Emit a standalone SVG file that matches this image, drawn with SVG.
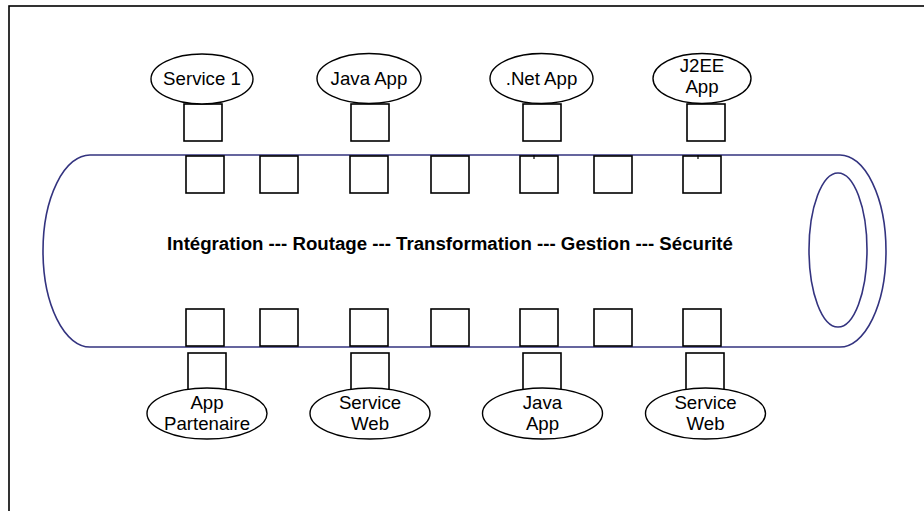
<svg xmlns="http://www.w3.org/2000/svg" width="924" height="511" viewBox="0 0 924 511">
  <style>
    .frame { fill: none; stroke: #000; stroke-width: 1.6; }
    .bus { fill: none; stroke: #33337f; stroke-width: 1.6; }
    .port { fill: #fff; stroke: #000; stroke-width: 1.6; }
    .app { fill: #fff; stroke: #000; stroke-width: 1.4; }
    .tick { stroke: #000; stroke-width: 1.2; }
    .lbl { font-family: "Liberation Sans", Arial, sans-serif; font-size: 18.67px; fill: #000; text-anchor: middle; }
    .bus-lbl { font-family: "Liberation Sans", Arial, sans-serif; font-size: 18.67px; font-weight: bold; fill: #000; text-anchor: middle; }
  </style>
  <defs>
    <rect id="port" width="38" height="37" class="port"/>
  </defs>

  <rect width="924" height="511" fill="#fff"/>
  <!-- page frame, open to the right and bottom -->
  <rect class="frame" x="9" y="6" width="1000" height="600"/>

  <!-- the bus (pipe) -->
  <g id="bus">
    <path class="bus" d="M90,155 L840,155 A46,96 0 0 1 840,347 L90,347 A47,96 0 0 1 90,155 Z"/>
    <ellipse class="bus" cx="838" cy="250" rx="29" ry="77"/>
    <text class="bus-lbl" x="450" y="250">Intégration --- Routage --- Transformation --- Gestion --- Sécurité</text>
  </g>

  <!-- connection ports on the bus -->
  <g id="bus-ports-top">
    <use href="#port" x="186" y="156"/>
    <use href="#port" x="260" y="156"/>
    <use href="#port" x="350" y="156"/>
    <use href="#port" x="431" y="156"/>
    <use href="#port" x="520" y="156"/>
    <use href="#port" x="594" y="156"/>
    <use href="#port" x="683" y="156"/>
    <line class="tick" x1="534" y1="155" x2="534" y2="159"/>
    <line class="tick" x1="698" y1="155" x2="698" y2="159"/>
  </g>
  <g id="bus-ports-bottom">
    <use href="#port" x="186" y="309"/>
    <use href="#port" x="260" y="309"/>
    <use href="#port" x="350" y="309"/>
    <use href="#port" x="431" y="309"/>
    <use href="#port" x="520" y="309"/>
    <use href="#port" x="594" y="309"/>
    <use href="#port" x="683" y="309"/>
  </g>

  <!-- adapters linking applications to the bus -->
  <g id="connectors">
    <use href="#port" x="184" y="104"/>
    <use href="#port" x="351" y="104"/>
    <use href="#port" x="523" y="104"/>
    <use href="#port" x="687" y="104"/>
    <use href="#port" x="188" y="353" height="36"/>
    <use href="#port" x="351" y="353"/>
    <use href="#port" x="523" y="353"/>
    <use href="#port" x="686" y="353"/>
  </g>

  <!-- applications above the bus -->
  <g id="service-1">
    <ellipse class="app" cx="202" cy="79" rx="51" ry="25"/>
    <text class="lbl" x="202" y="85">Service 1</text>
  </g>
  <g id="java-app-top">
    <ellipse class="app" cx="369" cy="78.5" rx="52" ry="25"/>
    <text class="lbl" x="369" y="85">Java App</text>
  </g>
  <g id="net-app">
    <ellipse class="app" cx="541.5" cy="78.5" rx="51.5" ry="25"/>
    <text class="lbl" x="541.5" y="85">.Net App</text>
  </g>
  <g id="j2ee-app">
    <ellipse class="app" cx="702" cy="78.5" rx="49" ry="25"/>
    <text class="lbl" x="702" y="72">J2EE</text>
    <text class="lbl" x="702" y="93">App</text>
  </g>

  <!-- applications below the bus -->
  <g id="app-partenaire">
    <ellipse class="app" cx="207" cy="413.5" rx="60" ry="25.5"/>
    <text class="lbl" x="207" y="409">App</text>
    <text class="lbl" x="207" y="430">Partenaire</text>
  </g>
  <g id="service-web-1">
    <ellipse class="app" cx="370" cy="413.5" rx="60" ry="25.5"/>
    <text class="lbl" x="370" y="409">Service</text>
    <text class="lbl" x="370" y="430">Web</text>
  </g>
  <g id="java-app-bottom">
    <ellipse class="app" cx="542.5" cy="413.5" rx="60" ry="25.5"/>
    <text class="lbl" x="542.5" y="409">Java</text>
    <text class="lbl" x="542.5" y="430">App</text>
  </g>
  <g id="service-web-2">
    <ellipse class="app" cx="705.5" cy="413.5" rx="60" ry="25.5"/>
    <text class="lbl" x="705.5" y="409">Service</text>
    <text class="lbl" x="705.5" y="430">Web</text>
  </g>
</svg>
